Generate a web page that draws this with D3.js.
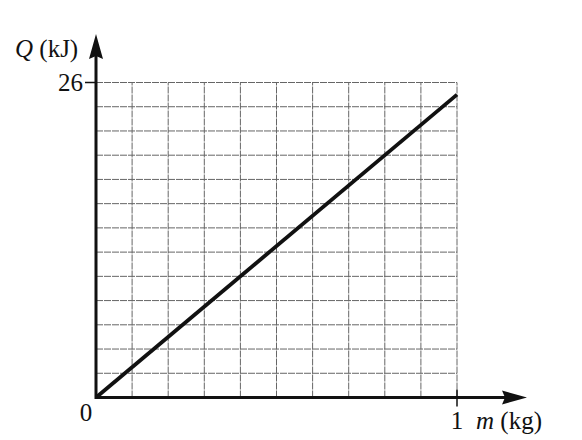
<!DOCTYPE html>
<html>
<head>
<meta charset="utf-8">
<script src="https://cdn.jsdelivr.net/npm/d3@7"></script>
<style>
  body { margin: 0; background: #fff; }
  svg text { font-family: "Liberation Serif", "DejaVu Serif", serif; fill: #111; }
</style>
</head>
<body>
<script>
// line data: Q (kJ) against m (kg)
const mValues = [0, 1];
const qValues = [0, 25];

// labelled ticks
const xTicks = [1];
const yTicks = [26];

// grid spacing
const mStep = 0.1;
const qStep = 2;

const width = 582, height = 440;

const svg = d3.select("body").append("svg")
    .attr("width", width)
    .attr("height", height);

const x = d3.scaleLinear().domain([0, 1]).range([96, 457]);
const y = d3.scaleLinear().domain([0, 26]).range([397.5, 82.5]);

// grid
const grid = svg.append("g")
    .attr("stroke", "#666")
    .attr("stroke-width", 1)
    .attr("stroke-dasharray", "7,1");

grid.selectAll("line.v")
    .data(d3.range(1, 11).map(i => i * mStep))
    .join("line")
    .attr("class", "v")
    .attr("x1", d => x(d)).attr("x2", d => x(d))
    .attr("y1", y(0)).attr("y2", y(26));

grid.selectAll("line.h")
    .data(d3.range(1, 14).map(i => i * qStep))
    .join("line")
    .attr("class", "h")
    .attr("x1", x(0)).attr("x2", x(1))
    .attr("y1", d => y(d)).attr("y2", d => y(d));

// data line
const pts = mValues.map((m, i) => [m, qValues[i]]);
svg.append("path")
    .datum(pts)
    .attr("fill", "none")
    .attr("stroke", "#111")
    .attr("stroke-width", 3.8)
    .attr("d", d3.line().x(d => x(d[0])).y(d => y(d[1])));

// axes
const ax = svg.append("g").attr("stroke", "#111").attr("stroke-width", 3);
ax.append("line")
    .attr("x1", x(0)).attr("x2", 510)
    .attr("y1", y(0)).attr("y2", y(0));
ax.append("line")
    .attr("x1", x(0)).attr("x2", x(0))
    .attr("y1", y(0) + 1.5).attr("y2", 54);

svg.append("path")
    .attr("fill", "#111")
    .attr("d", `M527,${y(0)} L502,${y(0) - 7} L505,${y(0)} L502,${y(0) + 7} Z`);
svg.append("path")
    .attr("fill", "#111")
    .attr("d", `M${x(0)},34 L${x(0) - 7},59 L${x(0)},56 L${x(0) + 7},59 Z`);

// tick marks
svg.selectAll("line.yt")
    .data(yTicks)
    .join("line")
    .attr("class", "yt")
    .attr("stroke", "#111").attr("stroke-width", 1.5)
    .attr("x1", x(0) - 11).attr("x2", x(0))
    .attr("y1", d => y(d)).attr("y2", d => y(d));

svg.selectAll("line.xt")
    .data(xTicks)
    .join("line")
    .attr("class", "xt")
    .attr("stroke", "#111").attr("stroke-width", 1.5)
    .attr("x1", d => x(d)).attr("x2", d => x(d))
    .attr("y1", y(0) - 8).attr("y2", y(0) + 9);

// tick labels
svg.selectAll("text.yl")
    .data(yTicks)
    .join("text")
    .attr("class", "yl")
    .attr("x", x(0) - 13)
    .attr("y", d => y(d) + 8)
    .attr("text-anchor", "end")
    .attr("font-size", 25)
    .text(d => d);

svg.selectAll("text.xl")
    .data(xTicks)
    .join("text")
    .attr("class", "xl")
    .attr("x", d => x(d))
    .attr("y", 429)
    .attr("text-anchor", "middle")
    .attr("font-size", 25)
    .text(d => d);

svg.append("text")
    .attr("x", 86).attr("y", 421)
    .attr("text-anchor", "middle")
    .attr("font-size", 25)
    .text("0");

// axis titles
const yt = svg.append("text")
    .attr("x", 15).attr("y", 57)
    .attr("font-size", 25);
yt.append("tspan").attr("font-style", "italic").text("Q");
yt.append("tspan").text(" (kJ)");

const xtl = svg.append("text")
    .attr("x", 476).attr("y", 429)
    .attr("font-size", 25);
xtl.append("tspan").attr("font-style", "italic").text("m");
xtl.append("tspan").text(" (kg)");
</script>
</body>
</html>
